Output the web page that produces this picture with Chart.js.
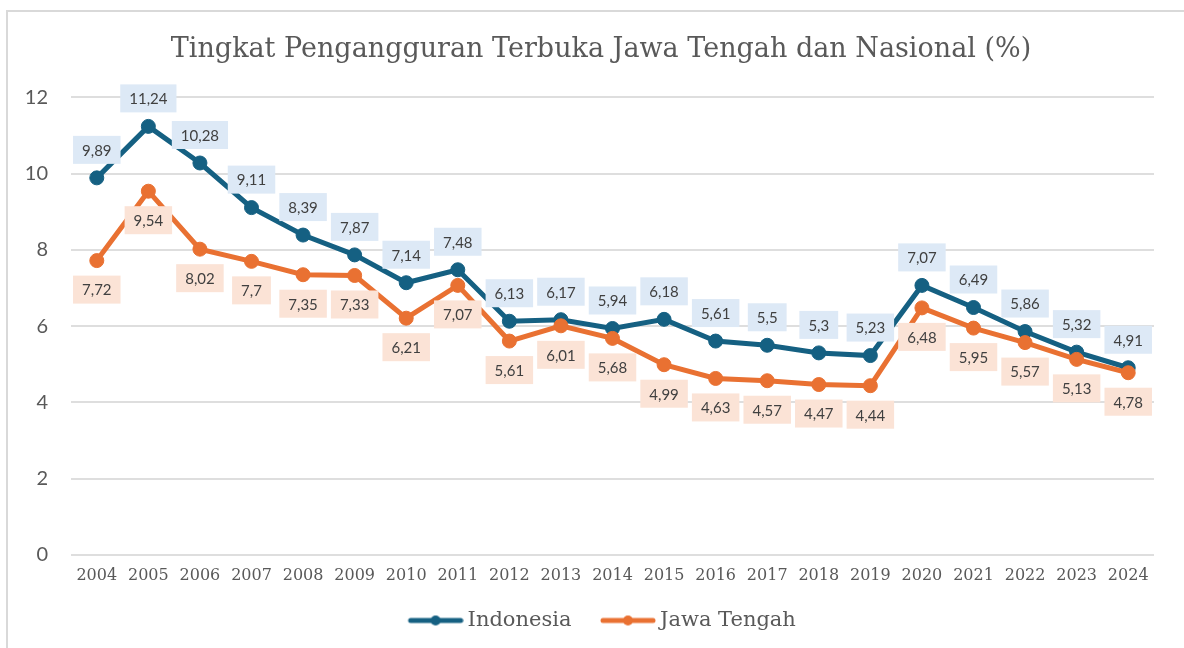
<!DOCTYPE html>
<html>
<head>
<meta charset="utf-8">
<title>Tingkat Pengangguran Terbuka</title>
<script src="https://cdn.jsdelivr.net/npm/chart.js@4"></script>
<style>
  html, body { margin: 0; padding: 0; background: #fff; overflow: hidden; }
  #wrap { position: relative; width: 1184px; height: 648px; }
  #frame {
    position: absolute; left: 6px; top: 10px; width: 1200px; height: 700px;
    border: 2px solid #d9d9d9; box-sizing: border-box; pointer-events: none;
  }
  canvas { position: absolute; left: 0; top: 0; }
</style>
</head>
<body>
<div id="wrap">
  <div id="frame"></div>
  <canvas id="chart" width="1184" height="648"></canvas>
</div>
<script>
// Tahun dan nilai TPT (%)
const years = ['2004', '2005', '2006', '2007', '2008', '2009', '2010', '2011', '2012', '2013',
               '2014', '2015', '2016', '2017', '2018', '2019', '2020', '2021', '2022', '2023', '2024'];
const indonesia = [9.89, 11.24, 10.28, 9.11, 8.39, 7.87, 7.14, 7.48, 6.13, 6.17,
                   5.94, 6.18, 5.61, 5.5, 5.3, 5.23, 7.07, 6.49, 5.86, 5.32, 4.91];
const jawaTengah = [7.72, 9.54, 8.02, 7.7, 7.35, 7.33, 6.21, 7.07, 5.61, 6.01,
                    5.68, 4.99, 4.63, 4.57, 4.47, 4.44, 6.48, 5.95, 5.57, 5.13, 4.78];
const yTicks = [0, 2, 4, 6, 8, 10, 12];

const BLUE = '#156082';
const ORANGE = '#e97132';
const TEXT = '#595959';

// simbol legenda: garis dengan titik di tengah, rata kanan pada kanvas 64px
function legendSymbol(color) {
  const c = document.createElement('canvas');
  c.width = 64; c.height = 12;
  const g = c.getContext('2d');
  g.strokeStyle = color; g.lineWidth = 5; g.lineCap = 'round';
  g.beginPath(); g.moveTo(11, 6); g.lineTo(61, 6); g.stroke();
  g.fillStyle = color;
  g.beginPath(); g.arc(36, 6, 5, 0, Math.PI * 2); g.fill();
  return c;
}

// label nilai dalam kotak berwarna, di atas (Indonesia) atau di bawah (Jawa Tengah)
const boxLabels = {
  id: 'boxLabels',
  afterDatasetsDraw(chart) {
    const ctx = chart.ctx;
    ctx.save();
    ctx.font = '15px Lato';
    ctx.textAlign = 'center';
    ctx.textBaseline = 'middle';
    chart.data.datasets.forEach((ds, i) => {
      const meta = chart.getDatasetMeta(i);
      meta.data.forEach((pt, j) => {
        const txt = String(ds.data[j]).replace('.', ',');
        const w = ctx.measureText(txt).width + 18;
        const h = 28;
        const cy = pt.y + ds.labelOffset;
        ctx.fillStyle = ds.labelFill;
        ctx.fillRect(pt.x - w / 2, cy - h / 2, w, h);
        ctx.fillStyle = '#404040';
        ctx.fillText(txt, pt.x, cy + 1);
      });
    });
    ctx.restore();
  }
};

new Chart(document.getElementById('chart'), {
  type: 'line',
  data: {
    labels: years,
    datasets: [
      {
        label: 'Indonesia',
        data: indonesia,
        borderColor: BLUE,
        backgroundColor: BLUE,
        borderWidth: 5,
        pointRadius: 7,
        pointBorderWidth: 1,
        order: 1,
        labelOffset: -28,
        labelFill: '#dde9f6'
      },
      {
        label: 'Jawa Tengah',
        data: jawaTengah,
        borderColor: ORANGE,
        backgroundColor: ORANGE,
        borderWidth: 5,
        pointRadius: 7,
        pointBorderWidth: 1,
        order: 0,
        labelOffset: 29,
        labelFill: '#fbe3d6'
      }
    ]
  },
  options: {
    responsive: false,
    animation: false,
    layout: { padding: { left: 18, right: 0, top: 0, bottom: 7 } },
    plugins: {
      title: {
        display: true,
        text: 'Tingkat Pengangguran Terbuka Jawa Tengah dan Nasional (%)',
        color: TEXT,
        font: { family: 'DejaVu Serif', size: 27, weight: 'normal', lineHeight: 1.2 },
        padding: { top: 34, bottom: 31 }
      },
      legend: {
        position: 'bottom',
        labels: {
          color: TEXT,
          font: { family: 'DejaVu Serif', size: 21 },
          usePointStyle: true,
          pointStyleWidth: 51,
          padding: 27,
          generateLabels(chart) {
            return chart.data.datasets.map((ds, i) => ({
              text: ds.label,
              fillStyle: ds.borderColor,
              strokeStyle: ds.borderColor,
              fontColor: TEXT,
              lineWidth: 0,
              pointStyle: legendSymbol(ds.borderColor),
              datasetIndex: i,
              hidden: false
            }));
          }
        }
      },
      tooltip: { enabled: false }
    },
    scales: {
      x: {
        offset: true,
        grid: { display: false },
        border: { display: false },
        ticks: { color: TEXT, font: { family: 'DejaVu Serif', size: 16 }, padding: 3, maxRotation: 0, autoSkip: false },
        afterFit(scale) { scale.height = 28; }
      },
      y: {
        min: 0,
        max: 12,
        afterBuildTicks(scale) { scale.ticks = yTicks.map(v => ({ value: v })); },
        grid: { color: '#dedede', lineWidth: 2, drawTicks: false },
        border: { display: false },
        ticks: { color: TEXT, font: { family: 'Lato', size: 20 }, padding: 23 },
        afterFit(scale) { scale.width = 53; }
      },
      // ruang kosong di sisi kanan area plot
      yRight: {
        position: 'right',
        grid: { display: false },
        border: { display: false },
        ticks: { display: false },
        afterFit(scale) { scale.width = 30; }
      }
    }
  },
  plugins: [boxLabels]
});
</script>
</body>
</html>
